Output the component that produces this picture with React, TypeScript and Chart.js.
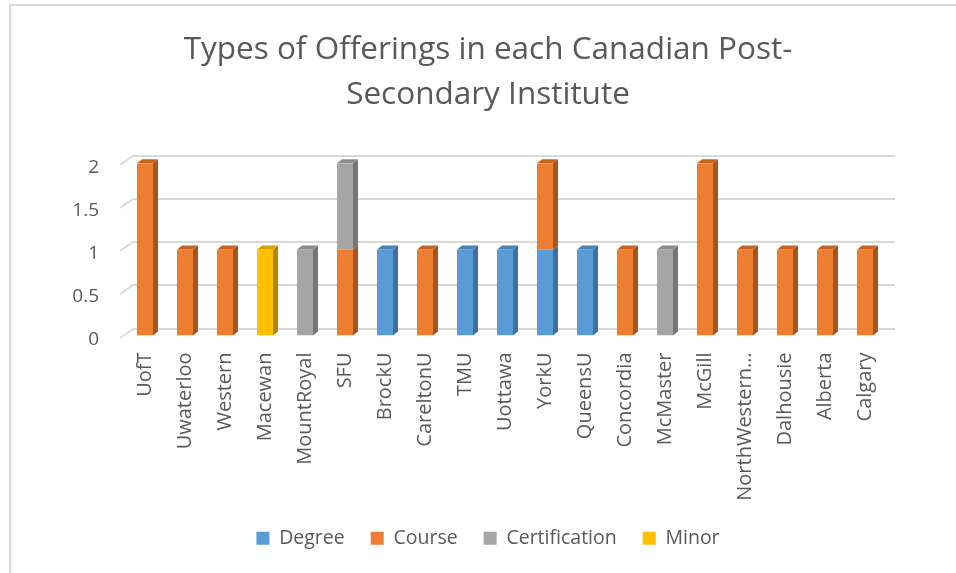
import React, { useEffect, useRef } from "react";
import { Chart, registerables } from "chart.js";

Chart.register(...registerables);

const institutes = [
  "UofT", "Uwaterloo", "Western", "Macewan", "MountRoyal", "SFU", "BrockU",
  "CareltonU", "TMU", "Uottawa", "YorkU", "QueensU", "Concordia", "McMaster",
  "McGill", "NorthWestern…", "Dalhousie", "Alberta", "Calgary",
];
const degree =        [0, 0, 0, 0, 0, 0, 1, 0, 1, 1, 1, 1, 0, 0, 0, 0, 0, 0, 0];
const course =        [2, 1, 1, 0, 0, 1, 0, 1, 0, 0, 1, 0, 1, 0, 2, 1, 1, 1, 1];
const certification = [0, 0, 0, 0, 1, 1, 0, 0, 0, 0, 0, 0, 0, 1, 0, 0, 0, 0, 0];
const minor =         [0, 0, 0, 1, 0, 0, 0, 0, 0, 0, 0, 0, 0, 0, 0, 0, 0, 0, 0];

const seriesNames = ["Degree", "Course", "Certification", "Minor"];
const seriesValues = [degree, course, certification, minor];
const yTickValues = [0, 0.5, 1, 1.5, 2];
const titleLines = ["Types of Offerings in each Canadian Post-", "Secondary Institute"];

const frontColors = ["#5B9BD5", "#ED7D31", "#A5A5A5", "#FFC000"];
const sideColors = ["#3F6F9A", "#A4561F", "#767676", "#B38700"];
const topColors = ["#4A82B5", "#C5651F", "#8C8C8C", "#D9A300"];

const DX = 5;
const DY = 4;

const bar3dPlugin = {
  id: "bar3d",
  beforeDatasetsDraw(chart: any) {
    const ctx = chart.ctx;
    const y = chart.scales.y;
    const { left, right } = chart.chartArea;
    ctx.save();
    ctx.strokeStyle = "#D9D9D9";
    ctx.lineWidth = 2;
    for (const v of yTickValues) {
      const py = Math.round(y.getPixelForValue(v));
      ctx.beginPath();
      ctx.moveTo(left - 5, py + 2);
      ctx.lineTo(left + 8, py - 7);
      ctx.lineTo(right + 10, py - 7);
      ctx.stroke();
    }
    ctx.restore();
  },
  afterDatasetsDraw(chart: any) {
    const ctx = chart.ctx;
    const n = chart.data.labels.length;
    ctx.save();
    for (let i = 0; i < n; i++) {
      let topIdx = -1;
      for (let d = 0; d < chart.data.datasets.length; d++) {
        const val = chart.data.datasets[d].data[i];
        if (!val) continue;
        const el: any = chart.getDatasetMeta(d).data[i];
        const xr = el.x + el.width / 2;
        const top = Math.min(el.y, el.base);
        const bot = Math.max(el.y, el.base);
        ctx.fillStyle = sideColors[d];
        ctx.beginPath();
        ctx.moveTo(xr, top);
        ctx.lineTo(xr + DX, top - DY);
        ctx.lineTo(xr + DX, bot - DY);
        ctx.lineTo(xr, bot);
        ctx.closePath();
        ctx.fill();
        topIdx = d;
      }
      if (topIdx >= 0) {
        const el: any = chart.getDatasetMeta(topIdx).data[i];
        const xl = el.x - el.width / 2;
        const xr = el.x + el.width / 2;
        const top = Math.min(el.y, el.base);
        ctx.fillStyle = topColors[topIdx];
        ctx.beginPath();
        ctx.moveTo(xl, top);
        ctx.lineTo(xl + DX, top - DY);
        ctx.lineTo(xr + DX, top - DY);
        ctx.lineTo(xr, top);
        ctx.closePath();
        ctx.fill();
      }
    }
    ctx.restore();
  },
};

export default function App() {
  const canvasRef = useRef<HTMLCanvasElement | null>(null);

  useEffect(() => {
    if (!canvasRef.current) return;
    Chart.defaults.font.family = "'Open Sans', sans-serif";
    const chart = new Chart(canvasRef.current, {
      type: "bar",
      data: {
        labels: institutes,
        datasets: seriesNames.map((name, k) => ({
          label: name,
          data: seriesValues[k],
          backgroundColor: frontColors[k],
          borderWidth: 0,
          categoryPercentage: 1,
          barPercentage: 0.4,
        })),
      },
      options: {
        responsive: false,
        animation: false,
        devicePixelRatio: 1,
        layout: { padding: { left: 20, right: 0, top: 0, bottom: 15 } },
        plugins: {
          title: {
            display: true,
            text: titleLines,
            color: "#595959",
            font: { size: 31.5, weight: "normal", lineHeight: 1.45 },
            padding: { top: 27, bottom: 45 },
          },
          legend: {
            position: "bottom",
            labels: {
              boxWidth: 13,
              boxHeight: 13,
              padding: 26,
              color: "#595959",
              font: { size: 19.5 },
            },
          },
          tooltip: { enabled: false },
        },
        scales: {
          x: {
            stacked: true,
            grid: { display: false, drawTicks: false },
            border: { display: false },
            ticks: {
              color: "#595959",
              font: { size: 20 },
              maxRotation: 90,
              minRotation: 90,
              autoSkip: false,
              padding: 17,
            },
            afterFit: (s: any) => { s.height = 167; },
          },
          y: {
            stacked: true,
            min: 0,
            max: 2,
            grid: { display: false, drawTicks: false },
            border: { display: false },
            ticks: {
              stepSize: 0.5,
              color: "#595959",
              font: { size: 19 },
              padding: 26,
              labelOffset: 4,
              callback: (v: any) => `${v}`,
            },
            afterFit: (s: any) => { s.width = 105; },
          },
          yRight: {
            type: "linear",
            position: "right",
            display: true,
            grid: { display: false, drawTicks: false },
            border: { display: false },
            ticks: { display: false },
            afterFit: (s: any) => { s.width = 71; },
          },
        },
      },
      plugins: [bar3dPlugin],
    } as any);
    return () => chart.destroy();
  }, []);

  return (
    <div style={{ position: "fixed", left: 0, top: 0, width: 956, height: 573, background: "#fff", overflow: "hidden" }}>
      <div style={{ position: "absolute", left: 9, top: 4, width: 1000, height: 1000, border: "2px solid #D9D9D9", boxSizing: "border-box" }} />
      <canvas ref={canvasRef} width={956} height={573} style={{ position: "absolute", left: 0, top: 0, width: 956, height: 573 }} />
    </div>
  );
}
